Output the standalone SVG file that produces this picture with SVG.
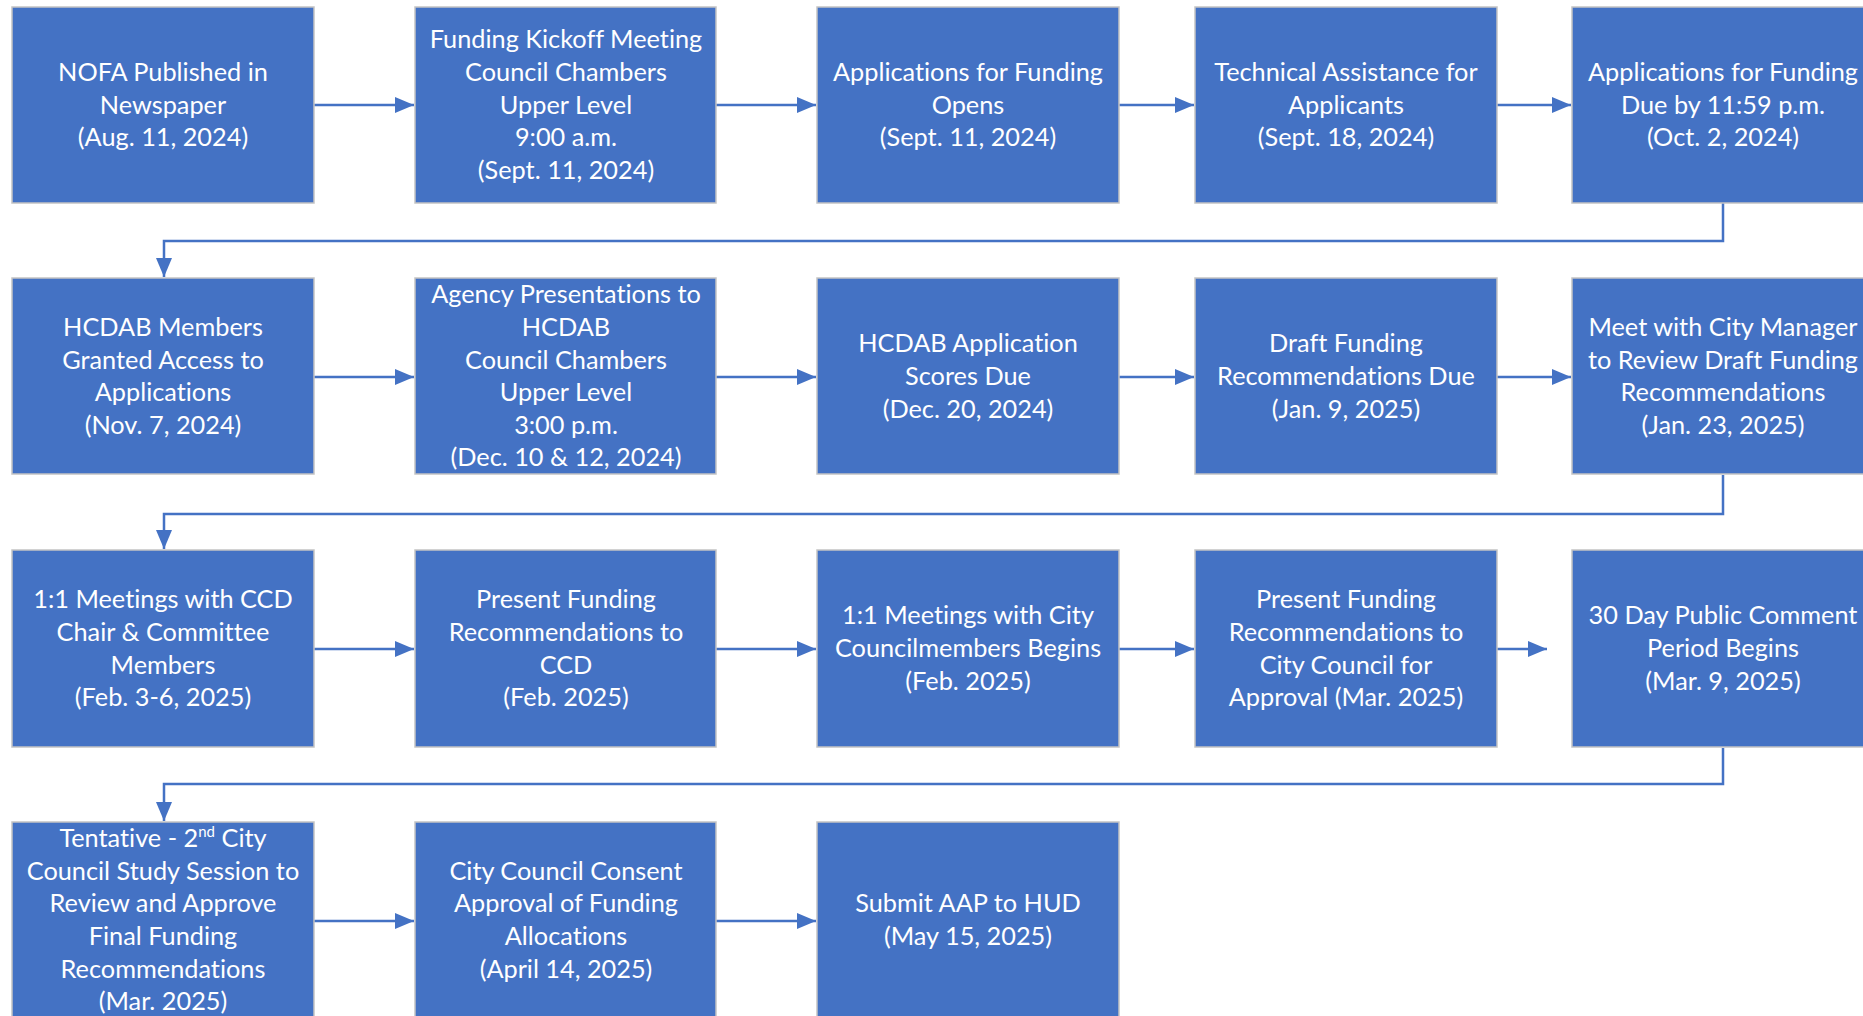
<svg xmlns="http://www.w3.org/2000/svg" width="1863" height="1016" viewBox="0 0 1863 1016">
<style>
.box{fill:#4472C4;stroke:#c3c3c3;stroke-width:1.5}
.t{font-family:Lato,"Liberation Sans",sans-serif;font-size:25.3px;fill:#ffffff;text-anchor:middle;font-variant-ligatures:none}
.c{fill:none;stroke:#4472C4;stroke-width:2.5}
</style>
<defs>
<marker id="ah" markerUnits="userSpaceOnUse" markerWidth="20" markerHeight="16" refX="19" refY="8" orient="auto">
<path d="M0,0 L19,8 L0,16 z" fill="#4472C4"/>
</marker>
</defs>
<rect width="1863" height="1016" fill="#ffffff"/>
<g id="connectors">
<path class="c" d="M314,105 H414" marker-end="url(#ah)"/>
<path class="c" d="M716,105 H816" marker-end="url(#ah)"/>
<path class="c" d="M1119,105 H1194" marker-end="url(#ah)"/>
<path class="c" d="M1497,105 H1571" marker-end="url(#ah)"/>
<path class="c" d="M1723,203 V241 H164 V277" marker-end="url(#ah)"/>
<path class="c" d="M314,377 H414" marker-end="url(#ah)"/>
<path class="c" d="M716,377 H816" marker-end="url(#ah)"/>
<path class="c" d="M1119,377 H1194" marker-end="url(#ah)"/>
<path class="c" d="M1497,377 H1571" marker-end="url(#ah)"/>
<path class="c" d="M1723,475 V514 H164 V549" marker-end="url(#ah)"/>
<path class="c" d="M314,649 H414" marker-end="url(#ah)"/>
<path class="c" d="M716,649 H816" marker-end="url(#ah)"/>
<path class="c" d="M1119,649 H1194" marker-end="url(#ah)"/>
<path class="c" d="M1497,649 H1547" marker-end="url(#ah)"/>
<path class="c" d="M1723,748 V784 H164 V821" marker-end="url(#ah)"/>
<path class="c" d="M314,921 H414" marker-end="url(#ah)"/>
<path class="c" d="M716,921 H816" marker-end="url(#ah)"/>
</g>
<g id="n1"><rect class="box" x="12" y="7" width="302" height="196"/>
<text class="t" x="163"><tspan x="163" y="81">NOFA Published in</tspan><tspan x="163" y="114">Newspaper</tspan><tspan x="163" y="146">(Aug. 11, 2024)</tspan></text></g>
<g id="n2"><rect class="box" x="415" y="7" width="301" height="196"/>
<text class="t"><tspan x="566" y="48">Funding Kickoff Meeting</tspan><tspan x="566" y="81">Council Chambers</tspan><tspan x="566" y="114">Upper Level</tspan><tspan x="566" y="146">9:00 a.m.</tspan><tspan x="566" y="179">(Sept. 11, 2024)</tspan></text></g>
<g id="n3"><rect class="box" x="817" y="7" width="302" height="196"/>
<text class="t"><tspan x="968" y="81">Applications for Funding</tspan><tspan x="968" y="114">Opens</tspan><tspan x="968" y="146">(Sept. 11, 2024)</tspan></text></g>
<g id="n4"><rect class="box" x="1195" y="7" width="302" height="196"/>
<text class="t"><tspan x="1346" y="81">Technical Assistance for</tspan><tspan x="1346" y="114">Applicants</tspan><tspan x="1346" y="146">(Sept. 18, 2024)</tspan></text></g>
<g id="n5"><rect class="box" x="1572" y="7" width="302" height="196"/>
<text class="t"><tspan x="1723" y="81">Applications for Funding</tspan><tspan x="1723" y="114">Due by 11:59 p.m.</tspan><tspan x="1723" y="146">(Oct. 2, 2024)</tspan></text></g>

<g id="n6"><rect class="box" x="12" y="278" width="302" height="196"/>
<text class="t"><tspan x="163" y="336">HCDAB Members</tspan><tspan x="163" y="369">Granted Access to</tspan><tspan x="163" y="401">Applications</tspan><tspan x="163" y="434">(Nov. 7, 2024)</tspan></text></g>
<g id="n7"><rect class="box" x="415" y="278" width="301" height="196"/>
<text class="t"><tspan x="566" y="303">Agency Presentations to</tspan><tspan x="566" y="336">HCDAB</tspan><tspan x="566" y="369">Council Chambers</tspan><tspan x="566" y="401">Upper Level</tspan><tspan x="566" y="434">3:00 p.m.</tspan><tspan x="566" y="466">(Dec. 10 &amp; 12, 2024)</tspan></text></g>
<g id="n8"><rect class="box" x="817" y="278" width="302" height="196"/>
<text class="t"><tspan x="968" y="352">HCDAB Application</tspan><tspan x="968" y="385">Scores Due</tspan><tspan x="968" y="418">(Dec. 20, 2024)</tspan></text></g>
<g id="n9"><rect class="box" x="1195" y="278" width="302" height="196"/>
<text class="t"><tspan x="1346" y="352">Draft Funding</tspan><tspan x="1346" y="385">Recommendations Due</tspan><tspan x="1346" y="418">(Jan. 9, 2025)</tspan></text></g>
<g id="n10"><rect class="box" x="1572" y="278" width="302" height="196"/>
<text class="t"><tspan x="1723" y="336">Meet with City Manager</tspan><tspan x="1723" y="369">to Review Draft Funding</tspan><tspan x="1723" y="401">Recommendations</tspan><tspan x="1723" y="434">(Jan. 23, 2025)</tspan></text></g>

<g id="n11"><rect class="box" x="12" y="550" width="302" height="197"/>
<text class="t"><tspan x="163" y="608">1:1 Meetings with CCD</tspan><tspan x="163" y="641">Chair &amp; Committee</tspan><tspan x="163" y="674">Members</tspan><tspan x="163" y="706">(Feb. 3-6, 2025)</tspan></text></g>
<g id="n12"><rect class="box" x="415" y="550" width="301" height="197"/>
<text class="t"><tspan x="566" y="608">Present Funding</tspan><tspan x="566" y="641">Recommendations to</tspan><tspan x="566" y="674">CCD</tspan><tspan x="566" y="706">(Feb. 2025)</tspan></text></g>
<g id="n13"><rect class="box" x="817" y="550" width="302" height="197"/>
<text class="t"><tspan x="968" y="624">1:1 Meetings with City</tspan><tspan x="968" y="657">Councilmembers Begins</tspan><tspan x="968" y="690">(Feb. 2025)</tspan></text></g>
<g id="n14"><rect class="box" x="1195" y="550" width="302" height="197"/>
<text class="t"><tspan x="1346" y="608">Present Funding</tspan><tspan x="1346" y="641">Recommendations to</tspan><tspan x="1346" y="674">City Council for</tspan><tspan x="1346" y="706">Approval (Mar. 2025)</tspan></text></g>
<g id="n15"><rect class="box" x="1572" y="550" width="302" height="197"/>
<text class="t"><tspan x="1723" y="624">30 Day Public Comment</tspan><tspan x="1723" y="657">Period Begins</tspan><tspan x="1723" y="690">(Mar. 9, 2025)</tspan></text></g>

<g id="n16"><rect class="box" x="12" y="822" width="302" height="197"/>
<text class="t"><tspan x="163" y="847">Tentative - 2<tspan font-size="15" dy="-10">nd</tspan><tspan dy="10"> City</tspan></tspan><tspan x="163" y="880">Council Study Session to</tspan><tspan x="163" y="912">Review and Approve</tspan><tspan x="163" y="945">Final Funding</tspan><tspan x="163" y="978">Recommendations</tspan><tspan x="163" y="1010">(Mar. 2025)</tspan></text></g>
<g id="n17"><rect class="box" x="415" y="822" width="301" height="197"/>
<text class="t"><tspan x="566" y="880">City Council Consent</tspan><tspan x="566" y="912">Approval of Funding</tspan><tspan x="566" y="945">Allocations</tspan><tspan x="566" y="978">(April 14, 2025)</tspan></text></g>
<g id="n18"><rect class="box" x="817" y="822" width="302" height="197"/>
<text class="t"><tspan x="968" y="912">Submit AAP to HUD</tspan><tspan x="968" y="945">(May 15, 2025)</tspan></text></g>
</svg>
